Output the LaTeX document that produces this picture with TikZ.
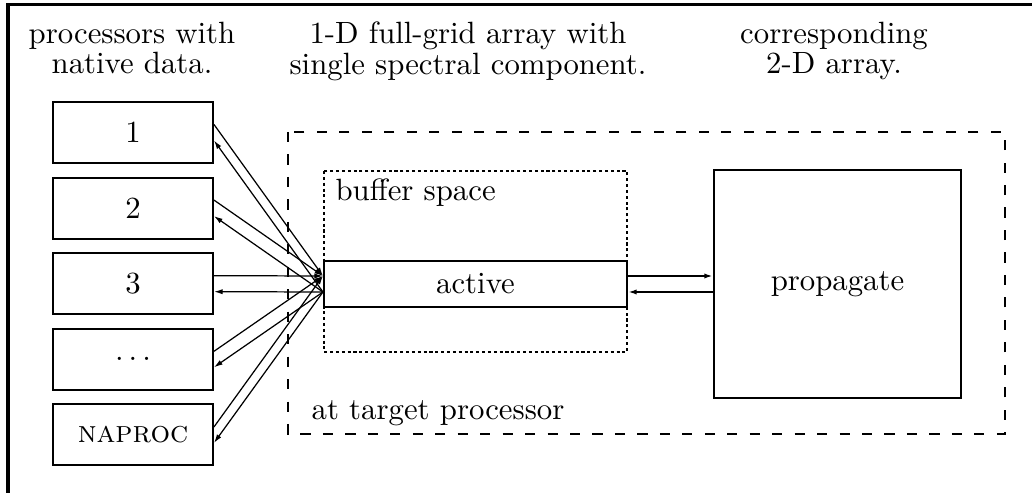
\documentclass[tikz,border=0pt]{standalone}
\usepackage{tikz}
\usetikzlibrary{arrows.meta}

\begin{document}
\begin{tikzpicture}[x=0.325pt,y=-0.325pt,
  pbox/.style={draw,line width=0.65pt,minimum width=52pt,minimum height=19.8pt,inner sep=0pt},
  title/.style={align=center,anchor=north,inner sep=0pt,font=\fontsize{10}{7.8}\selectfont},
  lbl/.style={anchor=base west,inner sep=0pt},
  arr/.style={-{Latex[length=2.8pt,width=1.7pt]},line width=0.4pt},
  thk/.style={-{Latex[length=2.8pt,width=1.7pt]},line width=0.65pt}]
  \useasboundingbox (0,0) rectangle (1032,493);
  \draw[line width=1pt] (8,520) |- (1060,4.5);
  % titles
  \node[title] (t1) at (132,21.5) {processors with\\native data.};
  \node[title] (t2) at (468,21.5) {1-D full-grid array with\\single spectral component.};
  \node[title] (t3) at (834,21.5) {corresponding\\2-D array.};
  % target processor
  \draw[line width=0.65pt,dash pattern=on 3.3pt off 4pt] (288,132) rectangle (1005,434);
  \node[lbl] (tgt) at (311,420) {at target processor};
  \draw[line width=0.65pt,dash pattern=on 1pt off 0.9pt] (324,171) rectangle (627,352);
  \node[lbl] (buf) at (335,201) {buffer space};
  \node[pbox,minimum width=98.5pt,minimum height=15pt] (active) at (475.5,284) {active};
  \node[pbox,line width=0.7pt,minimum width=80.3pt,minimum height=74.1pt] (prop) at (837.5,284) {propagate};
  % native processors
  \node[pbox] (p1) at (133,132.5) {1};
  \node[pbox] (p2) at (133,208.1) {2};
  \node[pbox] (p3) at (133,283.7) {3};
  \node[pbox] (p4) at (133,359.3) {$\ldots$};
  \node[pbox] (p5) at (133,434.9) {\textsc{naproc}};
  \draw[arr] ([yshift=2.6pt]p1.east)--([yshift=2.6pt]active.west);
  \draw[arr] ([yshift=-2.6pt]active.west)--([yshift=-2.6pt]p1.east);
  \draw[arr] ([yshift=2.6pt]p2.east)--([yshift=2.6pt]active.west);
  \draw[arr] ([yshift=-2.6pt]active.west)--([yshift=-2.6pt]p2.east);
  \draw[arr] ([yshift=2.6pt]p3.east)--([yshift=2.6pt]active.west);
  \draw[arr] ([yshift=-2.6pt]active.west)--([yshift=-2.6pt]p3.east);
  \draw[arr] ([yshift=2.6pt]p4.east)--([yshift=2.6pt]active.west);
  \draw[arr] ([yshift=-2.6pt]active.west)--([yshift=-2.6pt]p4.east);
  \draw[arr] ([yshift=2.6pt]p5.east)--([yshift=2.6pt]active.west);
  \draw[arr] ([yshift=-2.6pt]active.west)--([yshift=-2.6pt]p5.east);
  \draw[thk] ([yshift=2.6pt]active.east)--([yshift=2.6pt]prop.west);
  \draw[thk] ([yshift=-2.6pt]prop.west)--([yshift=-2.6pt]active.east);
\end{tikzpicture}
\end{document}
